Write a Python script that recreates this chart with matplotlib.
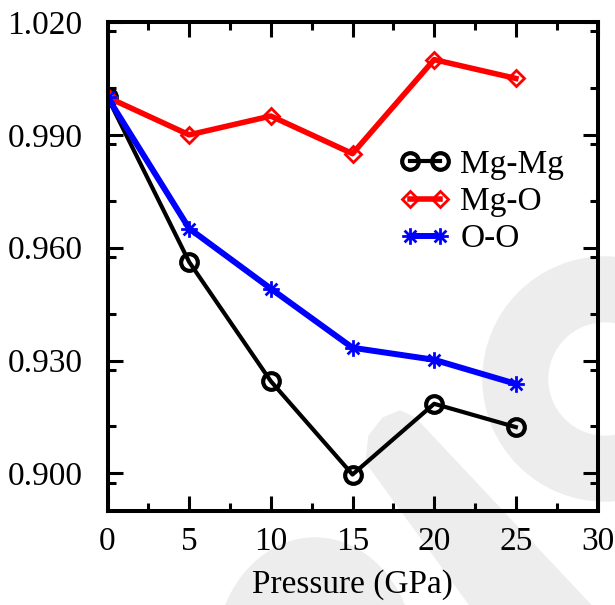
import numpy as np
import matplotlib
matplotlib.use("Agg")
import matplotlib.pyplot as plt
from matplotlib.path import Path
from matplotlib.patches import Ellipse, Polygon

# data
pressure = [0, 5, 10, 15, 20, 25]
mg_mg = [1.000, 0.9562, 0.9245, 0.8997, 0.9185, 0.9123]
mg_o = [1.000, 0.990, 0.995, 0.985, 1.010, 1.005]
o_o = [1.000, 0.9651, 0.9491, 0.9334, 0.9302, 0.9238]
labels = ["Mg-Mg", "Mg-O", "O-O"]
x_ticks = [0, 5, 10, 15, 20, 25, 30]
y_ticks = [0.900, 0.930, 0.960, 0.990, 1.020]

W, H = 615, 605
plt.rcParams['font.family'] = ['Liberation Serif', 'DejaVu Serif']
plt.rcParams['font.size'] = 24

fig = plt.figure(figsize=(W / 100, H / 100), dpi=100)

def fpt(x, y):
    # image pixel -> figure fraction
    return (x / W, 1 - y / H)

#------------------------------------------------------------------------------
# light grey background shapes
grey = '#ededed'
ring_c = fpt(605, 379)
fig.patches.append(Ellipse(ring_c, 2 * 122 / W, 2 * 122 / H, color=grey,
                           transform=fig.transFigure, zorder=-2))
fig.patches.append(Ellipse(ring_c, 2 * 56 / W, 2 * 56 / H, color='white',
                           transform=fig.transFigure, zorder=-1))
band = [(366, 462), (369, 436), (383, 418), (400, 411), (415, 418),
        (600, 615), (477, 615)]
fig.patches.append(Polygon([fpt(*p) for p in band], closed=True, color=grey,
                           transform=fig.transFigure, zorder=-2))
fig.patches.append(Ellipse(fpt(315, 660), 2 * 100 / W, 2 * 122 / H,
                           color=grey, transform=fig.transFigure, zorder=-2))

#------------------------------------------------------------------------------
ax = fig.add_axes([107.5 / W, 1 - 511 / H, 490 / W, 489 / H])
ax.set_facecolor('none')

# star marker: + and x on top of each other
d = 0.7071
star = Path([(-1, 0), (1, 0), (0, -1), (0, 1),
             (-d, -d), (d, d), (-d, d), (d, -d)],
            [Path.MOVETO, Path.LINETO] * 4)

ax.plot(pressure, mg_mg, color='black', lw=3, marker='o', ms=12,
        mew=3, mfc='none', label=labels[0])
ax.plot(pressure, mg_o, color='red', lw=4, marker='D', ms=8.5,
        mew=2, mfc='none', label=labels[1])
ax.plot(pressure, o_o, color='blue', lw=4.3, marker=star, ms=12,
        mew=2, label=labels[2])

ax.set_xlim(0, 30)
ax.set_xticks(x_ticks)
ax.set_xticks(np.arange(2.5, 30, 5), minor=True)
ax.set_yticks(y_ticks)
ax.set_yticks(np.arange(0.8975, 1.02, 0.015), minor=True)
ax.set_yticklabels(['%.3f' % v for v in y_ticks])
ax.set_ylim(0.89, 1.02)

ax.tick_params(which='both', direction='in', top=True, right=True, width=2.2)
ax.tick_params(which='major', length=11)
ax.tick_params(which='minor', length=5.5)
ax.tick_params(axis='y', pad=18)
ax.tick_params(axis='x', pad=11)
for s in ax.spines.values():
    s.set_linewidth(2.9)

ax.set_xlabel('Pressure (GPa)', labelpad=9)

ax.legend(loc='center', bbox_to_anchor=(0.765, 0.632), frameon=False,
          numpoints=2, handlelength=1.5, handletextpad=0.3,
          labelspacing=0.2, borderpad=0, fontsize=24)

fig.savefig('out.png', dpi=100)
